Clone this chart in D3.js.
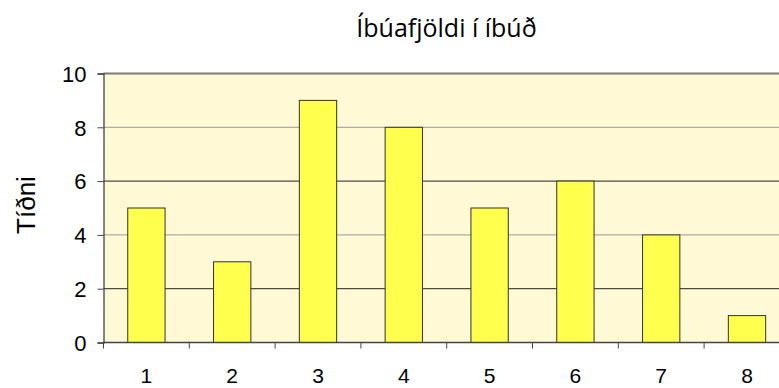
<!DOCTYPE html>
<html>
<head>
<meta charset="utf-8">
<script src="https://cdn.jsdelivr.net/npm/d3@7"></script>
<style>
  html, body { margin: 0; padding: 0; background: #fff; overflow: hidden; }
  svg { display: block; }
</style>
</head>
<body>
<svg id="chart" width="779" height="388"></svg>
<script>
// Number of residents per apartment and how often each occurs
const categories = ["1", "2", "3", "4", "5", "6", "7", "8"];
const counts = [5, 3, 9, 8, 5, 6, 4, 1];
const yTicks = [0, 2, 4, 6, 8, 10];
const titleText = "Íbúafjöldi í íbúð";
const yLabelText = "Tíðni";

const svg = d3.select("#chart");
const plot = { left: 103.5, top: 73.5, width: 686.4, bottom: 342.5 };
const labelFont = "Arial, 'Liberation Sans', sans-serif";

const x = d3.scaleBand()
  .domain(categories)
  .range([plot.left, plot.left + plot.width])
  .paddingInner(0.565)
  .paddingOuter(0.2825);

const y = d3.scaleLinear()
  .domain([0, 10])
  .range([plot.bottom, plot.top]);

// plot background
svg.append("rect")
  .attr("x", plot.left)
  .attr("y", plot.top)
  .attr("width", plot.width)
  .attr("height", plot.bottom - plot.top)
  .attr("fill", "#fff9d6");

// horizontal gridlines
svg.append("g")
  .selectAll("line")
  .data(yTicks.filter(d => d > 0))
  .join("line")
  .attr("x1", plot.left)
  .attr("x2", plot.left + plot.width)
  .attr("y1", d => y(d))
  .attr("y2", d => y(d))
  .attr("stroke", d => d === 10 ? "#7a7a7a" : (d % 4 === 2 ? "#222" : "#999"))
  .attr("stroke-width", d => d === 10 ? 1.8 : 1);

// bars
svg.append("g")
  .selectAll("rect")
  .data(categories.map((c, i) => ({ c, v: counts[i] })))
  .join("rect")
  .attr("x", d => x(d.c))
  .attr("y", d => y(d.v))
  .attr("width", x.bandwidth())
  .attr("height", d => y(0) - y(d.v))
  .attr("fill", "#ffff4d")
  .attr("stroke", "#333")
  .attr("stroke-width", 1);

// y axis
const yAxis = svg.append("g")
  .attr("transform", `translate(${plot.left},0)`)
  .call(d3.axisLeft(y).tickValues(yTicks).tickSize(6).tickPadding(11));
yAxis.select(".domain").attr("stroke", "#444").attr("stroke-width", 1.3);
yAxis.selectAll(".tick line").attr("stroke", "#444");
yAxis.selectAll("text")
  .attr("font-family", labelFont)
  .attr("font-size", 22)
  .attr("dy", "0.35em")
  .attr("fill", "#000");

// x axis with ticks at the category boundaries
const boundaries = categories.slice(1).map(c => x(c) - x.step() * x.paddingInner() / 2);
const xAxisG = svg.append("g");
xAxisG.append("line")
  .attr("x1", plot.left).attr("x2", plot.left + plot.width)
  .attr("y1", plot.bottom).attr("y2", plot.bottom)
  .attr("stroke", "#444").attr("stroke-width", 1.3);
xAxisG.selectAll("line.tk")
  .data([plot.left].concat(boundaries))
  .join("line")
  .attr("class", "tk")
  .attr("x1", d => d).attr("x2", d => d)
  .attr("y1", plot.bottom).attr("y2", plot.bottom + 6)
  .attr("stroke", "#444");
xAxisG.selectAll("text")
  .data(categories)
  .join("text")
  .attr("x", d => x(d) + x.bandwidth() / 2)
  .attr("y", 383)
  .attr("text-anchor", "middle")
  .attr("font-family", labelFont)
  .attr("font-size", 21)
  .attr("fill", "#000")
  .text(d => d);

// title
svg.append("text")
  .attr("x", 446.5)
  .attr("y", 37)
  .attr("text-anchor", "middle")
  .attr("font-family", "'Open Sans', 'Noto Sans', sans-serif")
  .attr("font-size", 25)
  .attr("fill", "#000")
  .text(titleText);

// y axis label
svg.append("text")
  .attr("transform", "translate(35,205) rotate(-90)")
  .attr("text-anchor", "middle")
  .attr("font-family", labelFont)
  .attr("font-size", 26)
  .attr("fill", "#000")
  .text(yLabelText);
</script>
</body>
</html>
